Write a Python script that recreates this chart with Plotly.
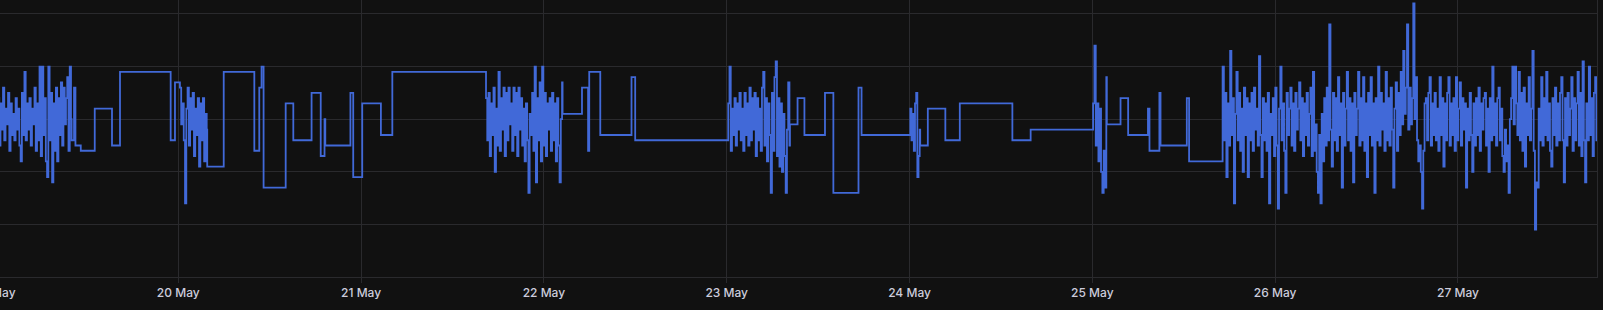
import pandas as pd
import plotly.graph_objects as go

# ---- data ----
# stepwise (held) readings: start time of each level and its value
step_times = [
    "2024-05-19 10:00", "2024-05-19 10:19", "2024-05-19 10:30", "2024-05-19 11:12",
    "2024-05-19 13:02", "2024-05-19 15:18", "2024-05-19 16:21", "2024-05-19 23:00",
    "2024-05-19 23:34",
    "2024-05-20 03:48", "2024-05-20 05:58", "2024-05-20 09:59", "2024-05-20 10:38",
    "2024-05-20 10:56", "2024-05-20 11:12", "2024-05-20 14:06", "2024-05-20 15:06",
    "2024-05-20 17:30", "2024-05-20 18:42", "2024-05-20 19:12", "2024-05-20 19:18",
    "2024-05-20 22:36", "2024-05-20 22:58", "2024-05-21 00:09", "2024-05-21 02:36",
    "2024-05-21 04:06",
    "2024-05-22 02:27", "2024-05-22 05:00", "2024-05-22 05:48", "2024-05-22 05:57",
    "2024-05-22 07:24", "2024-05-22 11:30", "2024-05-22 11:59",
    "2024-05-23 08:18", "2024-05-23 09:18", "2024-05-23 10:12", "2024-05-23 12:54",
    "2024-05-23 14:00", "2024-05-23 17:18", "2024-05-23 17:42",
    "2024-05-24 01:24", "2024-05-24 02:24", "2024-05-24 04:42", "2024-05-24 06:36",
    "2024-05-24 13:30", "2024-05-24 15:54",
    "2024-05-25 01:54", "2024-05-25 03:42", "2024-05-25 04:42", "2024-05-25 07:18",
    "2024-05-25 07:30", "2024-05-25 08:48", "2024-05-25 08:57", "2024-05-25 12:24",
    "2024-05-25 12:42",
]
step_values = [
    2.6, 3.6, 2.5, 2.4,
    3.2, 2.5, 3.9, 2.6,
    3.7,
    2.1, 3.9, 2.4, 3.6,
    4.0, 1.7, 3.3, 2.6,
    3.5, 2.3, 3.0, 2.5,
    3.5, 1.9, 3.3, 2.7,
    3.9,
    3.1, 3.6, 2.4, 3.9,
    2.7, 3.8, 2.6,
    2.9, 3.4, 2.7, 3.5,
    1.6, 3.6, 2.7,
    2.5, 3.2, 2.6, 3.3,
    2.6, 2.8,
    2.9, 3.4, 2.7, 3.2,
    2.4, 3.5, 2.5, 3.4,
    2.2,
]

# densely sampled (noisy) periods: start, end, readings
noise_a_span = ("2024-05-19 00:00", "2024-05-19 09:55")
noise_a = [3.1, 2.7, 3.4, 2.5, 3.3, 2.8, 3.6, 2.6, 3.2, 2.9, 3.5, 2.4, 3.3, 2.7, 3.1, 2.6, 3.4, 2.8, 3.2, 2.5,
           2.2, 3.5, 2.7, 3.9, 2.6, 3.3, 2.8, 3.4, 2.5, 3.2, 2.9, 3.6, 2.4, 3.3, 2.6, 4.0, 2.3, 4.0, 2.7, 3.4,
           2.2, 1.9, 4.0, 2.6, 3.5, 1.8, 3.3, 2.4, 3.6, 2.2, 3.4, 2.7, 3.7, 2.5, 3.6, 2.9, 3.4, 3.8, 2.4, 4.0, 3.0]

noise_b_span = ("2024-05-20 00:13", "2024-05-20 03:44")
noise_b = [3.6, 2.9, 3.3, 2.6, 1.4, 3.2, 3.6, 2.5, 3.4, 2.8, 3.5, 2.3, 3.2, 2.7, 3.4, 2.1, 3.3, 2.6, 3.4, 2.2, 3.1, 2.8]

noise_c_span = ("2024-05-21 16:24", "2024-05-22 02:23")
noise_c = [3.4, 2.6, 3.5, 2.3, 3.3, 2.7, 3.6, 2.0, 3.2, 2.5, 3.9, 2.4, 3.4, 2.8, 3.6, 2.3, 3.5, 2.6, 3.6, 2.9,
           3.3, 2.4, 3.6, 2.7, 3.5, 2.3, 3.6, 2.8, 3.4, 2.5, 3.2, 2.2, 3.3, 2.6, 1.6, 3.1, 2.7, 3.5, 2.4, 4.0,
           1.8, 3.4, 2.6, 3.7, 2.2, 4.0, 2.5, 3.5, 2.3, 3.3, 2.8, 3.4, 2.4, 3.5, 2.6, 3.3, 2.2, 3.4, 2.5, 1.8, 3.0, 3.7]

noise_d_span = ("2024-05-23 00:12", "2024-05-23 08:14")
noise_d = [3.3, 4.0, 2.4, 3.2, 2.7, 3.4, 2.5, 3.3, 2.8, 3.5, 2.6, 3.2, 2.4, 3.5, 2.7, 3.3, 2.5, 3.6, 2.6, 3.4,
           2.8, 3.5, 2.3, 3.4, 2.6, 3.2, 2.4, 3.6, 3.9, 2.5, 3.4, 2.2, 3.3, 2.7, 1.6, 3.5, 2.4, 3.8, 4.1, 2.3,
           3.4, 2.1, 3.3, 2.0, 3.1, 2.3, 1.6, 2.8, 3.7, 2.5]

noise_e_span = ("2024-05-24 00:06", "2024-05-24 01:20")
noise_e = [3.2, 2.6, 3.1, 2.4, 3.3, 3.5, 1.9, 2.3, 2.8]

noise_f_span = ("2024-05-25 00:06", "2024-05-25 01:50")
noise_f = [3.3, 4.4, 2.5, 3.3, 2.2, 3.2, 2.0, 1.6, 2.4, 1.7, 3.8]

noise_g_span = ("2024-05-25 17:06", "2024-05-27 18:20")
noise_g = [
    4.0, 2.6, 3.5, 1.9, 3.3, 2.5, 4.3, 2.7, 3.4, 1.4, 3.1, 3.9, 2.6, 3.5, 2.4, 3.2, 2.0, 3.6, 2.7, 3.4,
    1.9, 3.3, 2.6, 3.5, 2.4, 3.6, 2.8, 3.2, 2.5, 4.2, 2.7, 1.9, 3.4, 2.6, 3.3, 2.4, 3.5, 1.4, 3.1, 2.7,
    3.4, 2.3, 3.6, 2.5, 1.3, 3.2, 4.0, 2.6, 3.3, 2.4, 1.6, 3.5, 2.7, 3.2, 3.6, 2.5, 3.3, 2.4, 3.5, 2.8,
    3.2, 3.7, 2.6, 3.4, 2.3, 3.3, 2.7, 3.5, 2.5, 3.1, 3.6, 2.3, 3.9, 2.4, 2.9, 2.0, 1.6, 2.7, 1.4, 3.1,
    2.2, 3.4, 2.5, 3.6, 2.6, 4.8, 2.8, 2.1, 3.5, 2.6, 3.4, 2.4, 3.8, 2.7, 3.3, 1.7, 3.5, 2.5, 3.2, 3.9,
    2.6, 3.4, 2.4, 3.3, 1.8, 3.5, 2.7, 3.2, 3.9, 2.5, 3.4, 2.6, 3.8, 2.4, 3.3, 1.9, 3.5, 2.7, 3.8, 2.5,
    3.3, 1.6, 3.4, 2.6, 4.0, 2.5, 3.5, 2.8, 3.3, 2.4, 3.9, 2.6, 3.4, 2.5, 3.6, 2.8, 1.7, 3.2, 3.7, 2.4,
    3.5, 2.7, 3.9, 2.9, 4.3, 3.1, 3.6, 4.8, 2.8, 3.6, 2.9, 3.4, 5.2, 3.0, 3.8, 2.6, 2.2, 2.5, 2.0, 1.3,
    2.4, 3.3, 3.4, 2.6, 3.5, 3.8, 2.5, 3.3, 2.7, 3.5, 2.6, 3.2, 2.4, 3.8, 2.7, 3.4, 2.1, 3.3, 2.6, 3.5,
    3.8, 2.5, 3.3, 2.7, 3.4, 2.4, 3.8, 2.6, 3.2, 3.7, 2.5, 3.4, 2.8, 3.3, 1.7, 3.2, 2.6, 3.5, 2.7, 2.0,
    3.3, 2.5, 3.4, 2.7, 3.6, 2.4, 3.3, 2.8, 3.4, 3.5, 2.5, 3.2, 2.0, 3.4, 2.6, 4.0, 2.7, 3.3, 2.5, 3.4,
    3.6, 2.6, 3.2, 2.3, 2.0, 2.8, 2.2, 2.5, 1.6, 3.0, 3.4, 4.0, 2.9, 4.0, 3.3, 2.7, 3.9, 2.6, 3.5, 2.4,
    3.6, 2.1, 3.3, 2.7, 3.8, 2.6, 3.2, 4.3, 2.4, 0.9, 1.8, 1.7, 3.2, 2.6, 3.8, 2.5, 3.4, 2.7, 3.9, 2.6,
    3.3, 2.4, 2.1, 3.4, 2.7, 3.6, 2.5, 3.3, 2.6, 3.5, 3.8, 2.6, 1.8, 3.4, 2.5, 3.5, 2.7, 3.2, 3.8, 2.4,
    3.4, 2.6, 3.3, 3.9, 2.5, 3.5, 2.3, 4.1, 2.6, 1.8, 3.3, 2.6, 4.0, 2.7, 3.4, 2.3, 3.5, 3.8, 2.6, 3.2,
]

x_range = ["2024-05-18 23:17", "2024-05-27 18:15"]
y_range = [0, 5.266]

# ---- assemble series ----
frames = [pd.DataFrame({"t": pd.to_datetime(step_times), "v": step_values})]
for span, vals in [(noise_a_span, noise_a), (noise_b_span, noise_b), (noise_c_span, noise_c),
                   (noise_d_span, noise_d), (noise_e_span, noise_e), (noise_f_span, noise_f),
                   (noise_g_span, noise_g)]:
    frames.append(pd.DataFrame({"t": pd.date_range(span[0], span[1], periods=len(vals)), "v": vals}))
df = pd.concat(frames).sort_values("t").reset_index(drop=True)

BG = "#111111"
GRID = "#2a2a2d"
TXT = "#ccccdc"

fig = go.Figure(go.Scatter(
    x=df["t"], y=df["v"], mode="lines",
    line=dict(shape="hv", color="#4169d8", width=1.8),
    hoverinfo="skip", showlegend=False,
))

fig.update_layout(
    width=1623, height=310,
    margin=dict(l=10, r=6, t=0, b=33, autoexpand=False),
    paper_bgcolor=BG, plot_bgcolor=BG,
    font=dict(family="Inter, Roboto, sans-serif", size=12, color=TXT),
)
fig.update_xaxes(
    type="date", range=x_range, dtick=86400000, tick0="2024-05-19",
    tickformat="%-d %b", showgrid=True, gridcolor=GRID, gridwidth=1,
    ticks="outside", ticklen=5, tickcolor=GRID, ticklabeloverflow="allow",
    showline=True, linecolor=GRID, linewidth=1, zeroline=False, automargin=False,
    tickfont=dict(family="Inter, Roboto, sans-serif", size=12, color=TXT, weight=500),
)
fig.update_yaxes(
    range=y_range, dtick=1, tick0=0, showgrid=True, gridcolor=GRID, gridwidth=1,
    showticklabels=False, zeroline=False, side="right", automargin=False,
    showline=True, linecolor=GRID, linewidth=1, ticks="",
)

post = ("var gd=document.getElementById('{plot_id}');"
        "gd.style.marginLeft='-20px';"
        "document.body.style.margin='0';"
        "document.body.style.overflow='hidden';"
        "document.body.style.background='" + BG + "';")
fig.write_html("out.html", config={"displayModeBar": False}, post_script=post)
